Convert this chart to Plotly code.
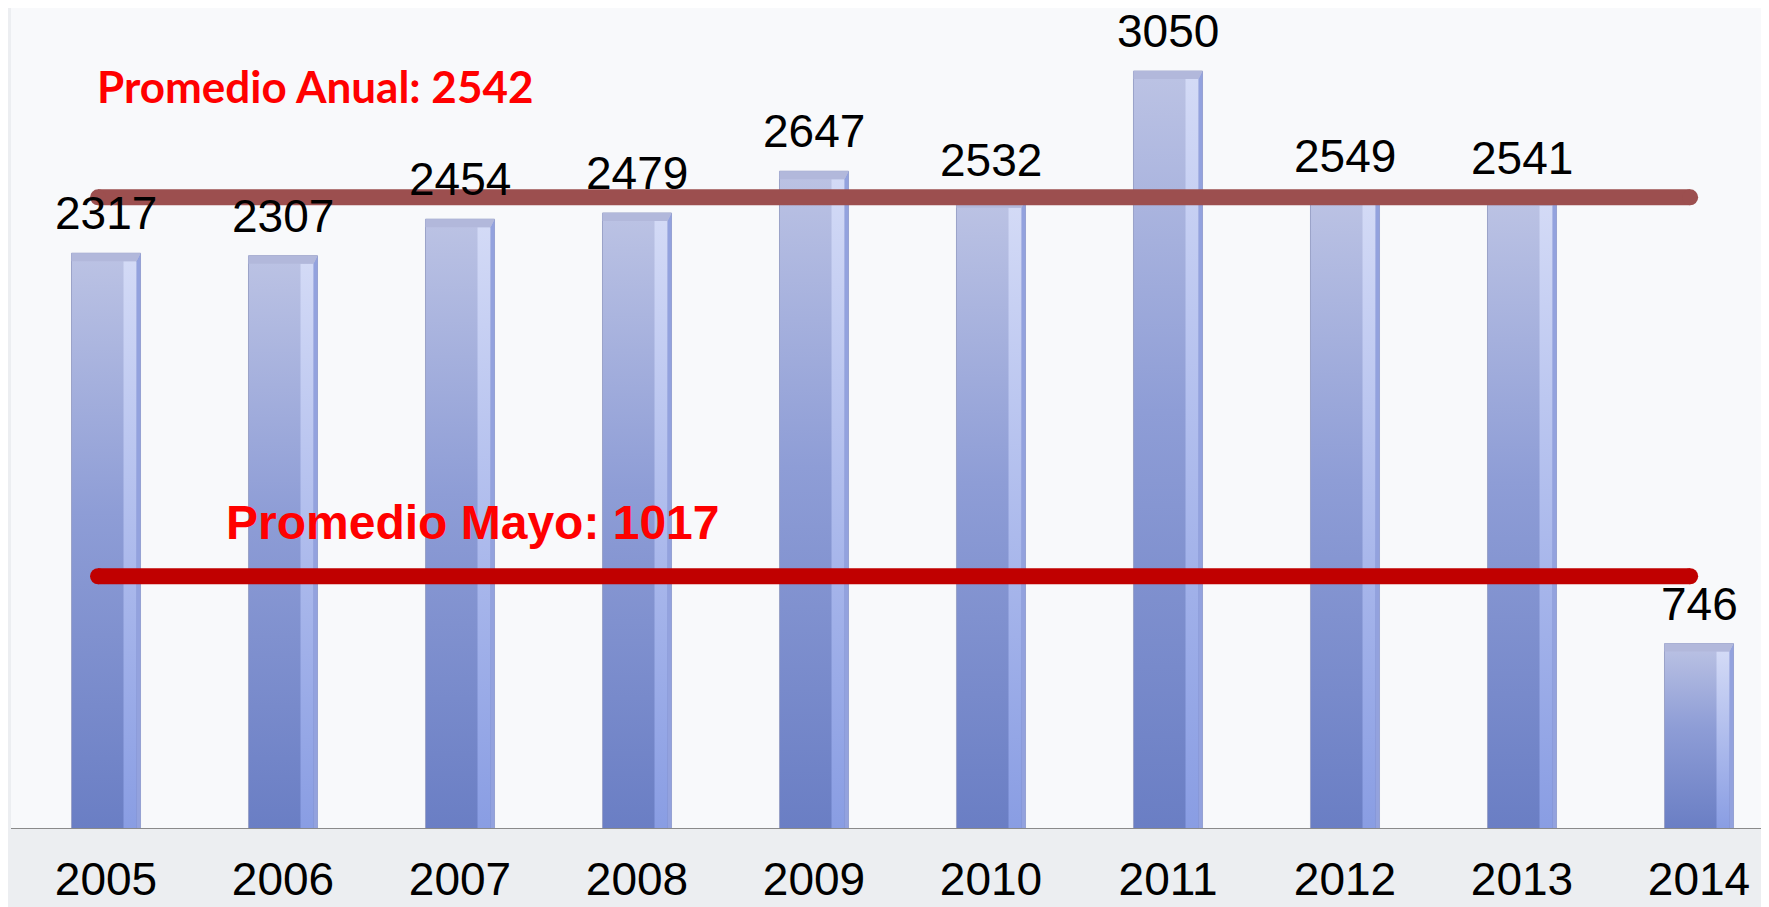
import plotly.graph_objects as go

# ---- data ----
years = ["2005", "2006", "2007", "2008", "2009", "2010", "2011", "2012", "2013", "2014"]
values = [2317, 2307, 2454, 2479, 2647, 2532, 3050, 2549, 2541, 746]
avg_anual = 2542
avg_mayo = 1017
label_anual = "Promedio Anual"
label_mayo = "Promedio Mayo"

# ---- layout constants ----
OFF = 8                       # page body margin of the html page
W, H = 1769 - OFF, 907 - OFF
M_L, M_R, M_T, M_B = 11 - OFF, 0, 0, 78
PX_PER_UNIT = 0.2485
plot_h = H - M_T - M_B
Y_MAX = plot_h / PX_PER_UNIT
HALF = 0.195                  # half bar width in category units
CAT_PX = 177.0
X_RANGE = [-(106 - 11) / CAT_PX, (1769 - 106) / CAT_PX]
u_per_px = 1 / PX_PER_UNIT
x_per_px = 1 / CAT_PX

idx = list(range(len(years)))
fig = go.Figure()

# bars (gradient-filled rectangles built from the values)
for i, v in zip(idx, values):
    xl, xr = i - HALF, i + HALF
    fig.add_trace(go.Scatter(
        x=[xl, xr, xr, xl, xl], y=[0, 0, v, v, 0], mode="lines",
        fill="toself", line=dict(color="#9aa2c8", width=1),
        fillgradient=dict(type="vertical",
                          colorscale=[[0, "#6a7ec4"], [0.55, "#8e9dd6"], [1, "#bcc3e4"]]),
        hoverinfo="skip", showlegend=False))
    # right highlight strip
    s0, s1 = xr - 17 * x_per_px, xr - 4 * x_per_px
    top = v - 8 * u_per_px
    fig.add_trace(go.Scatter(
        x=[s0, s1, s1, s0, s0], y=[0, 0, top, top, 0], mode="lines",
        fill="toself", line=dict(width=0, color="rgba(0,0,0,0)"),
        fillgradient=dict(type="vertical",
                          colorscale=[[0, "#899de3"], [1, "#d3daf6"]]),
        hoverinfo="skip", showlegend=False))
    # right edge
    e0 = xr - 4 * x_per_px
    fig.add_trace(go.Scatter(
        x=[e0, xr, xr, e0, e0], y=[0, 0, v, top, 0], mode="lines",
        fill="toself", line=dict(width=0, color="rgba(0,0,0,0)"),
        fillcolor="#93a2de", hoverinfo="skip", showlegend=False))
    # top bevel
    fig.add_trace(go.Scatter(
        x=[xl, xr, s1, xl, xl], y=[v, v, top, top, v], mode="lines",
        fill="toself", line=dict(width=0, color="rgba(0,0,0,0)"),
        fillcolor="#b2b8db", hoverinfo="skip", showlegend=False))

# average lines (round caps via end markers)
LINE_X = [-0.045, 8.95]
for val, col in [(avg_anual, "#9c4f4f"), (avg_mayo, "#c00000")]:
    fig.add_trace(go.Scatter(
        x=LINE_X, y=[val, val], mode="lines+markers",
        line=dict(color=col, width=16),
        marker=dict(color=col, size=16, line=dict(width=0)),
        hoverinfo="skip", showlegend=False))

annotations = []
for i, v in zip(idx, values):
    annotations.append(dict(
        x=i, y=v, xref="x", yref="y", text=str(v), showarrow=False,
        yanchor="bottom", yshift=12,
        font=dict(family="Liberation Sans, Arial, sans-serif", size=46, color="#000000")))

def px_to_paper_x(px):
    return (px - OFF - M_L) / (W - M_L - M_R)

def px_to_paper_y(py):
    return 1 - (py - OFF - M_T) / plot_h

annotations.append(dict(
    x=px_to_paper_x(95), y=px_to_paper_y(86), xref="paper", yref="paper",
    xanchor="left", yanchor="middle", showarrow=False,
    text=f"<b>{label_anual}: {avg_anual}</b>",
    font=dict(family="Lato, Carlito, sans-serif", size=44, color="#ff0000")))
annotations.append(dict(
    x=px_to_paper_x(224), y=px_to_paper_y(522), xref="paper", yref="paper",
    xanchor="left", yanchor="middle", showarrow=False,
    text=f"<b>{label_mayo}: {avg_mayo}</b>",
    font=dict(family="Liberation Sans, Arial, sans-serif", size=48, color="#ff0000")))

fig.update_layout(
    width=W, height=H,
    margin=dict(l=M_L, r=M_R, t=M_T, b=M_B, pad=0, autoexpand=False),
    paper_bgcolor="#eceef1",
    plot_bgcolor="#f8f9fb",
    showlegend=False,
    annotations=annotations,
    xaxis=dict(range=X_RANGE, tickmode="array", tickvals=idx, ticktext=years,
               showgrid=False, zeroline=False, showline=False, automargin=False,
               ticks="outside", ticklen=10, tickcolor="rgba(0,0,0,0)",
               tickfont=dict(family="Liberation Sans, Arial, sans-serif", size=46, color="#000000"),
               fixedrange=True),
    yaxis=dict(range=[0, Y_MAX], visible=False, showgrid=False, zeroline=False,
               automargin=False, fixedrange=True),
    shapes=[dict(type="line", xref="paper", yref="y", x0=0, x1=1, y0=0, y1=0,
                 line=dict(color="#8a8a8a", width=2), layer="above")],
)

fig.write_html("out.html")
